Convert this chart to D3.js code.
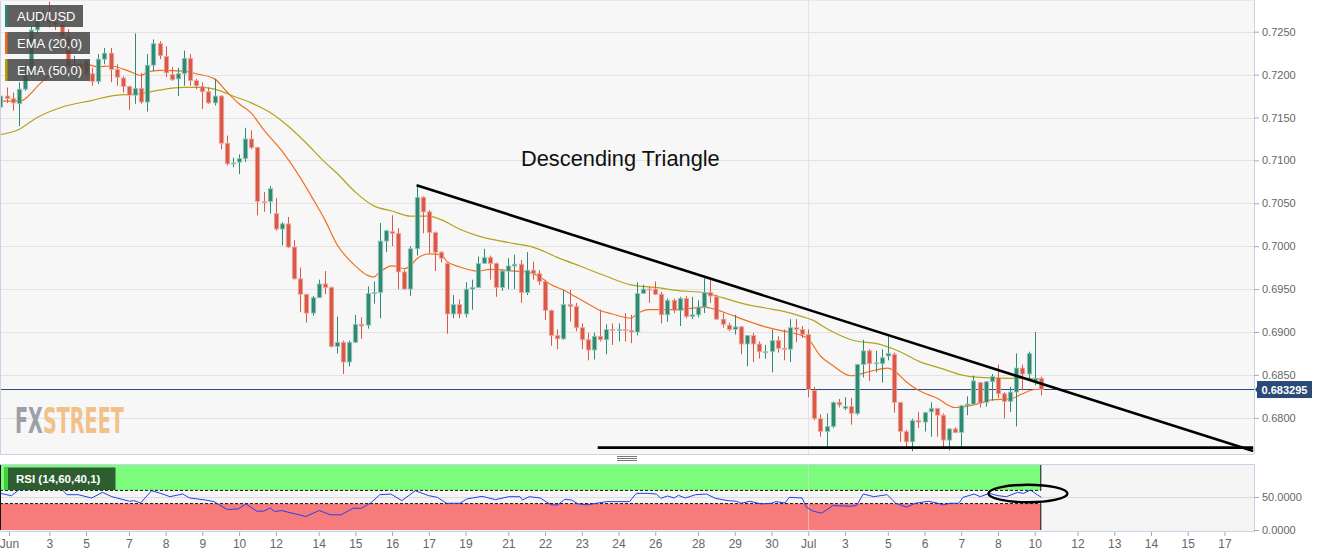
<!DOCTYPE html>
<html>
<head>
<meta charset="utf-8">
<script src="https://cdn.jsdelivr.net/npm/d3@7"></script>
<style>
    body { margin: 0; background: #fff; font-family: "Liberation Sans", Arial, sans-serif; }
    svg { display: block; }
</style>
</head>
<body>
<svg id="chart" width="1331" height="558"></svg>
<script>
// 4h candles, index 0 = Jun 1 16:00
const opens = [
    .7162,.7175,.7172,.7166,.7183,.7200,.7252,.7270,.7265,.7261,.7258,.7244,.7210,.7211,.7216,.7201,.7192,.7218,.7225,.7206,
    .7196,.7186,.7176,.7184,.7168,.7211,.7236,.7221,.7200,.7195,.7201,.7219,.7193,.7186,.7180,.7167,.7175,.7120,.7096,.7098,
    .7102,.7125,.7115,.7052,.7052,.7038,.7020,.7026,.6999,.6962,.6944,.6922,.6940,.6956,.6952,.6883,.6888,.6865,.6888,.6909,
    .6908,.6945,.6946,.7006,.7017,.7015,.6970,.6950,.6997,.7057,.7040,.7016,.6993,.6980,.6921,.6932,.6921,.6950,.6952,.6980,
    .6987,.6980,.6952,.6971,.6977,.6979,.6946,.6972,.6968,.6959,.6925,.6896,.6892,.6932,.6930,.6905,.6891,.6879,.6895,.6891,
    .6903,.6902,.6903,.6902,.6900,.6945,.6950,.6950,.6944,.6920,.6937,.6925,.6939,.6918,.6920,.6929,.6946,.6941,.6915,.6908,
    .6903,.6906,.6886,.6896,.6886,.6876,.6877,.6890,.6881,.6880,.6905,.6903,.6897,.6832,.6799,.6784,.6790,.6818,.6811,.6813,
    .6805,.6862,.6878,.6863,.6863,.6872,.6874,.6818,.6784,.6772,.6797,.6795,.6807,.6811,.6803,.6774,.6787,.6783,.6814,.6816,
    .6841,.6818,.6842,.6847,.6828,.6819,.6830,.6858,.6851,.6843,.6846
];
const highs = [
    .7195,.7185,.7179,.7191,.7212,.7256,.7275,.7277,.7285,.7266,.7262,.7253,.7222,.7214,.7218,.7208,.7224,.7231,.7231,.7212,
    .7198,.7187,.7248,.7202,.7224,.7241,.7239,.7233,.7209,.7208,.7228,.7224,.7195,.7191,.7185,.7195,.7176,.7129,.7103,.7107,
    .7138,.7135,.7116,.7063,.7070,.7056,.7028,.7034,.7007,.6975,.6944,.6942,.6961,.6971,.6953,.6918,.6890,.6890,.6920,.6917,
    .6953,.6959,.7027,.7019,.7036,.7021,.6973,.7000,.7071,.7058,.7042,.7017,.6994,.6981,.6943,.6938,.6958,.6961,.6988,.6997,
    .6989,.6981,.6973,.6986,.6990,.6984,.6993,.6982,.6972,.6961,.6926,.6903,.6949,.6949,.6934,.6910,.6899,.6899,.6926,.6909,
    .6910,.6910,.6922,.6920,.6958,.6955,.6953,.6959,.6947,.6939,.6939,.6941,.6942,.6941,.6937,.6963,.6961,.6943,.6922,.6911,
    .6920,.6907,.6896,.6899,.6889,.6885,.6903,.6895,.6903,.6915,.6915,.6907,.6903,.6836,.6804,.6805,.6819,.6822,.6824,.6823,
    .6863,.6891,.6880,.6878,.6880,.6895,.6876,.6818,.6786,.6799,.6807,.6807,.6818,.6811,.6805,.6788,.6789,.6815,.6825,.6849,
    .6842,.6843,.6851,.6862,.6830,.6836,.6875,.6862,.6877,.6900,.6848
];
const lows = [
    .7160,.7167,.7158,.7140,.7181,.7198,.7248,.7260,.7255,.7252,.7240,.7208,.7204,.7202,.7198,.7187,.7189,.7212,.7191,.7187,
    .7179,.7159,.7166,.7166,.7157,.7204,.7218,.7197,.7193,.7175,.7187,.7187,.7183,.7160,.7166,.7164,.7113,.7094,.7092,.7084,
    .7098,.7113,.7036,.7040,.7038,.7018,.7001,.6998,.6961,.6923,.6911,.6919,.6940,.6944,.6882,.6875,.6851,.6860,.6887,.6892,
    .6904,.6933,.6916,.6993,.7000,.6950,.6950,.6942,.6989,.7015,.6992,.6971,.6981,.6898,.6916,.6916,.6917,.6926,.6952,.6980,
    .6961,.6941,.6948,.6950,.6950,.6934,.6943,.6961,.6955,.6914,.6884,.6880,.6891,.6912,.6901,.6880,.6867,.6868,.6889,.6874,
    .6885,.6889,.6889,.6887,.6896,.6945,.6934,.6943,.6910,.6912,.6922,.6907,.6916,.6915,.6917,.6922,.6934,.6914,.6905,.6901,
    .6897,.6874,.6860,.6865,.6869,.6869,.6853,.6876,.6867,.6865,.6888,.6893,.6824,.6797,.6778,.6765,.6788,.6812,.6809,.6792,
    .6803,.6847,.6843,.6853,.6841,.6867,.6806,.6772,.6764,.6761,.6788,.6784,.6778,.6778,.6764,.6762,.6782,.6764,.6803,.6815,
    .6812,.6813,.6820,.6823,.6799,.6807,.6790,.6832,.6845,.6838,.6826
];
const closes = [
    .7175,.7172,.7167,.7183,.7200,.7252,.7270,.7265,.7261,.7258,.7244,.7210,.7211,.7207,.7201,.7192,.7218,.7225,.7206,.7197,
    .7186,.7176,.7184,.7168,.7211,.7236,.7222,.7202,.7194,.7201,.7219,.7193,.7187,.7180,.7167,.7175,.7120,.7096,.7097,.7102,
    .7125,.7115,.7052,.7051,.7067,.7020,.7026,.6999,.6962,.6944,.6922,.6940,.6956,.6952,.6883,.6888,.6865,.6888,.6909,.6907,
    .6945,.6946,.7006,.7018,.7015,.6970,.6950,.6997,.7057,.7040,.7016,.6993,.6986,.6921,.6932,.6921,.6950,.6952,.6980,.6987,
    .6980,.6952,.6971,.6977,.6979,.6946,.6972,.6968,.6959,.6925,.6896,.6892,.6932,.6930,.6905,.6891,.6879,.6895,.6891,.6903,
    .6902,.6903,.6902,.6900,.6945,.6950,.6949,.6944,.6920,.6937,.6925,.6939,.6918,.6920,.6929,.6946,.6942,.6915,.6909,.6903,
    .6906,.6886,.6896,.6886,.6877,.6877,.6890,.6881,.6880,.6905,.6903,.6897,.6833,.6799,.6784,.6790,.6818,.6815,.6813,.6805,
    .6862,.6878,.6863,.6864,.6870,.6875,.6818,.6784,.6772,.6797,.6795,.6806,.6811,.6803,.6774,.6787,.6783,.6814,.6816,.6843,
    .6817,.6842,.6848,.6828,.6819,.6830,.6858,.6851,.6875,.6846,.683295
];

// EMA readings (candle index, price)
const ema20Idx = [0,3,7,10,14,16,18,21,23,24,26,30,32,35,37,39,41,43,46,49,51,53,55,58,60,61,62,64,66,67,68,70,72,73,75,78,80,84,86,88,90,92,94,96,98,100,103,104,106,109,112,115,117,119,122,125,128,130,132,134,136,139,142,145,146,148,150,153,156,159,162,165,167,169,170];
const ema20Val = [.7169,.7169,.7193,.7210,.7212,.7209,.7210,.7204,.7199,.7203,.7205,.7204,.7201,.7195,.7180,.7166,.7155,.7136,.7111,.7080,.7056,.7031,.7002,.6977,.6966,.6964,.6970,.6977,.6974,.6977,.6985,.6991,.6990,.6982,.6976,.6971,.6973,.6971,.6970,.6965,.6955,.6949,.6941,.6933,.6925,.6921,.6916,.6921,.6926,.6926,.6927,.6929,.6926,.6921,.6913,.6906,.6901,.6898,.6892,.6872,.6861,.6849,.6854,.6858,.6855,.6842,.6832,.6823,.6812,.6815,.6821,.6822,.6828,.6833,.6833];
const ema50Idx = [0,3,6,10,15,18,21,23,26,30,33,35,38,41,44,47,50,53,55,58,61,64,67,70,72,75,78,81,84,87,91,95,99,103,107,111,115,118,122,125,128,131,133,135,139,144,147,150,154,157,160,165,168,170];
const ema50Val = [.7130,.7136,.7150,.7162,.7170,.7175,.7177,.7178,.7182,.7185,.7185,.7183,.7175,.7167,.7156,.7140,.7120,.7098,.7085,.7063,.7047,.7041,.7035,.7035,.7031,.7020,.7012,.7007,.7003,.6999,.6987,.6976,.6965,.6955,.6952,.6948,.6946,.6940,.6932,.6928,.6924,.6918,.6913,.6904,.6891,.6885,.6877,.6866,.6857,.6850,.6847,.6846,.6846,.6845];

// RSI readings (candle index, value)
const rsiIdx = [0,1.8,3.2,5,8,9.4,10.9,12.7,14.9,16.7,18.2,21.1,21.8,22.9,24.7,26.2,27.7,29.8,30.9,33.5,34.9,36.4,37.1,38.9,40.1,41.9,43,44.1,44.8,45.9,48.1,49.9,52.1,53.9,55.7,57.6,59,60.5,62,63.8,65.6,67.8,70,71.4,72.9,75.1,76.2,78.7,80.9,83.1,84.9,85.3,86.4,88.2,90,91.1,92.2,93.3,94.4,95.9,97.7,99.1,102.8,103.9,105.7,107.2,107.9,109,110.1,110.8,111.9,113.6,115.4,116.8,118.9,120.3,121,122.5,124.3,126,126.7,128.2,128.9,131,131.7,132.8,134.2,136,138.8,139.9,141,142.7,144.9,146.3,148.1,149.5,151.6,153,154.1,155.2,156.6,157.3,159.1,160.1,161.6,163,164.4,166.2,167.2,168.3,169.4,170.1];
const rsiVal = [55.5,52,62,70.5,70.5,67,53.5,53.5,48.5,57,50.5,43.5,44.5,41,59.5,55.5,50.5,54.5,48.5,45.5,43,34.5,31,32,39.5,28.5,28.5,33.5,28,29.5,24.5,20.5,29.5,23,23,33,33,41,53.5,54.5,44.5,59.5,52,49.5,40.5,40.5,47,51,46,50.5,50.5,45.5,50.5,48.5,38,38,46.5,45.5,39.5,38,41,43,43,55.5,55.5,54.5,48,51.5,48.5,52.5,48.5,53.5,54.5,48,44.5,43.5,40.5,43.5,39.5,40.5,43,41,49.5,48.5,34.5,28.5,25.5,37,36,37,54.5,50.5,53.5,40.5,34.5,40.5,43.5,41,38,40.5,40.5,49.5,54.5,50.5,55.5,52,50.5,57,55.5,60.5,53.5,49.5];

const dayLabels = ['Jun','3','5','7','8','9','10','12','14','15','16','17','19','21','22','23','24','26','28','29','30','Jul','3','5','6','7','8','10','12','13','14','15','17'];
const dayIndex = [1.4,8,14,21,27,33,39,45,52,58,64,70,76,83,89,95,101,107,114,120,126,132,138,145,151,157,163,169,176,182,188,194,200];
const priceTicks = [0.6800,0.6850,0.6900,0.6950,0.7000,0.7050,0.7100,0.7150,0.7200,0.7250];
const rsiTicks = [0, 50];
const lastPrice = 0.683295;
const julIndex = 132;

// annotations (index, price)
const resistLine = [[68, 0.7071], [204.7, 0.67613]];
const supportLine = [[97.6, 0.67652], [204.7, 0.67652]];
const rsiCircle = { i: 167.9, v: 55.3, di: 6.45, dv: 13.2 };

const legendItems = [
    { name: 'AUD/USD', color: '#2a8a70', w: 78 },
    { name: 'EMA (20,0)', color: '#f06a1a', w: 85 },
    { name: 'EMA (50,0)', color: '#b3a000', w: 85 }
];

const GREEN = '#2e8a72', RED = '#d85948';
const plotRight = 1254, plotTop = 1, plotBottom = 454;

const svg = d3.select('#chart');
const x = d3.scaleLinear().domain([0, 170]).range([0.4, 1040.8]);
const y = d3.scaleLinear().domain([0.6800, 0.7250]).range([417.8, 31.7]);
const ry = d3.scaleLinear().domain([0, 100]).range([530, 464]);

svg.append('defs').append('clipPath').attr('id', 'plotclip')
    .append('rect').attr('x', 0).attr('y', plotTop).attr('width', plotRight).attr('height', plotBottom - plotTop);

// main panel background
svg.append('rect').attr('x', 0).attr('y', plotTop).attr('width', plotRight).attr('height', plotBottom - plotTop)
    .attr('fill', '#f7f7f7');

// grid
svg.append('g').selectAll('line').data(priceTicks).enter().append('line')
    .attr('x1', 0).attr('x2', plotRight)
    .attr('y1', d => Math.round(y(d)) + 0.5).attr('y2', d => Math.round(y(d)) + 0.5)
    .attr('stroke', '#e2e2e2');

// month separator
svg.append('line').attr('x1', Math.round(x(julIndex)) + 0.5).attr('x2', Math.round(x(julIndex)) + 0.5)
    .attr('y1', plotTop).attr('y2', plotBottom).attr('stroke', '#e4e4e4');

// watermark (narrow bold, stretched vertically)
const wmFont = '"Liberation Sans Narrow", "DejaVu Sans Condensed", sans-serif';
const wm = svg.append('g').attr('transform', 'translate(15,433) scale(1,1.69)');
wm.append('text').attr('x', 0).attr('y', 0).attr('font-family', wmFont)
    .attr('font-weight', 'bold').attr('font-size', 21.3).attr('fill', '#9ca0a8').text('FX');
wm.append('text').attr('x', 28).attr('y', 0).attr('font-family', wmFont)
    .attr('font-weight', 'bold').attr('font-size', 21.3).attr('fill', '#f2c089').text('STREET');

const plot = svg.append('g').attr('clip-path', 'url(#plotclip)');

// price line
plot.append('line').attr('x1', 0).attr('x2', plotRight)
    .attr('y1', y(lastPrice)).attr('y2', y(lastPrice))
    .attr('stroke', '#2c4a78').attr('stroke-width', 1);

// EMAs
const emaLine = d3.line().x(d => x(d[0])).y(d => y(d[1])).curve(d3.curveMonotoneX);
plot.append('path').datum(d3.zip(ema50Idx, ema50Val)).attr('d', emaLine)
    .attr('fill', 'none').attr('stroke', '#b5a31c').attr('stroke-width', 1.2);
plot.append('path').datum(d3.zip(ema20Idx, ema20Val)).attr('d', emaLine)
    .attr('fill', 'none').attr('stroke', '#f0701e').attr('stroke-width', 1.2);

// candles
const candles = d3.range(closes.length).map(i => ({ i, o: opens[i], h: highs[i], l: lows[i], c: closes[i] }));
const cg = plot.append('g').selectAll('g').data(candles).enter().append('g');
cg.append('line')
    .attr('x1', d => Math.round(x(d.i)) + 0.5).attr('x2', d => Math.round(x(d.i)) + 0.5)
    .attr('y1', d => y(d.h)).attr('y2', d => y(d.l))
    .attr('stroke', d => d.c >= d.o ? GREEN : RED).attr('stroke-width', 1);
cg.append('rect')
    .attr('x', d => Math.round(x(d.i)) + 0.5 - 2.2)
    .attr('width', 4.4)
    .attr('y', d => y(Math.max(d.o, d.c)))
    .attr('height', d => Math.max(1, y(Math.min(d.o, d.c)) - y(Math.max(d.o, d.c))))
    .attr('fill', d => d.c >= d.o ? GREEN : RED)
    .attr('stroke', d => d.c >= d.o ? '#9cc9bb' : '#f0a99d').attr('stroke-width', 0.8);

// trend lines
const tl = d3.line().x(d => x(d[0])).y(d => y(d[1]));
plot.append('path').datum(resistLine).attr('d', tl).attr('stroke', '#000').attr('stroke-width', 2.6).attr('fill', 'none');
plot.append('path').datum(supportLine).attr('d', tl).attr('stroke', '#000').attr('stroke-width', 2.6).attr('fill', 'none');

svg.append('text').attr('x', 521).attr('y', 166).attr('font-size', 21.8).attr('fill', '#111')
    .text('Descending Triangle');

// legends
const lg = svg.append('g').selectAll('g').data(legendItems).enter().append('g')
    .attr('transform', (d, k) => 'translate(5,' + [5, 32, 59][k] + ')');
lg.append('rect').attr('width', d => d.w).attr('height', 22).attr('fill', '#474747').attr('opacity', 0.86);
lg.append('rect').attr('width', 2.5).attr('height', 22).attr('fill', d => d.color);
lg.append('text').attr('x', 12).attr('y', 15.8).attr('fill', '#fff').attr('font-size', 13).text(d => d.name);

// borders
svg.append('line').attr('x1', plotRight + 0.5).attr('x2', plotRight + 0.5).attr('y1', 0).attr('y2', plotBottom)
    .attr('stroke', '#c9d2e6');
svg.append('line').attr('x1', 0.5).attr('x2', 0.5).attr('y1', 0).attr('y2', plotBottom).attr('stroke', '#c9d2e6');
svg.append('line').attr('x1', 0).attr('x2', plotRight).attr('y1', plotBottom + 0.5).attr('y2', plotBottom + 0.5)
    .attr('stroke', '#c9d2e6');
svg.append('line').attr('x1', 0).attr('x2', plotRight).attr('y1', 0.5).attr('y2', 0.5).attr('stroke', '#e6e9f0');

// handle
[456.5, 458.5, 460.5].forEach(v => {
    svg.append('line').attr('x1', 617).attr('x2', 637).attr('y1', v).attr('y2', v).attr('stroke', '#777').attr('stroke-width', 1);
});

// price axis
const yAxis = svg.append('g').attr('transform', 'translate(' + plotRight + ',0)')
    .call(d3.axisRight(y).tickValues(priceTicks).tickFormat(d3.format('.4f')).tickSize(5));
yAxis.select('.domain').remove();
yAxis.selectAll('line').attr('stroke', '#aaa');
yAxis.selectAll('text').attr('fill', '#666').attr('font-size', 11).attr('font-family', '"Liberation Sans", Arial, sans-serif');

// last price tag
const tagY = y(lastPrice);
svg.append('path').attr('d', 'M' + (plotRight + 1) + ',' + tagY + 'L1258,' + (tagY - 4) + 'L1258,' + (tagY + 4) + 'Z').attr('fill', '#2c4a78');
svg.append('rect').attr('x', 1257).attr('y', tagY - 8.5).attr('width', 55).attr('height', 17).attr('fill', '#2c4a78');
svg.append('text').attr('x', 1284.5).attr('y', tagY + 4).attr('text-anchor', 'middle')
    .attr('fill', '#fff').attr('font-size', 11).attr('font-weight', 'bold').text(lastPrice.toFixed(6));

// RSI panel
const lastX = x(170);
svg.append('rect').attr('x', 0).attr('y', 464).attr('width', plotRight).attr('height', 68).attr('fill', '#f5f5f5');
svg.append('rect').attr('x', 0).attr('y', ry(100)).attr('width', lastX).attr('height', ry(60) - ry(100)).attr('fill', '#7cfb7c');
svg.append('rect').attr('x', 0).attr('y', ry(40)).attr('width', lastX).attr('height', ry(0) - ry(40)).attr('fill', '#f87b7b');
svg.append('line').attr('x1', 0).attr('x2', plotRight).attr('y1', Math.round(ry(50)) + 0.5).attr('y2', Math.round(ry(50)) + 0.5)
    .attr('stroke', '#dcdcdc');
svg.append('line').attr('x1', Math.round(x(julIndex)) + 0.5).attr('x2', Math.round(x(julIndex)) + 0.5)
    .attr('y1', 464).attr('y2', 531).attr('stroke', '#e0e0e0').attr('opacity', 0.6);
[60, 40].forEach(v => {
    svg.append('line').attr('x1', 0).attr('x2', lastX).attr('y1', ry(v)).attr('y2', ry(v))
        .attr('stroke', '#111').attr('stroke-dasharray', '3,2').attr('stroke-width', 1);
});
svg.append('line').attr('x1', lastX).attr('x2', lastX).attr('y1', ry(100)).attr('y2', ry(60)).attr('stroke', '#111');
svg.append('line').attr('x1', lastX).attr('x2', lastX).attr('y1', ry(40)).attr('y2', ry(0)).attr('stroke', '#111');
svg.append('line').attr('x1', 0.5).attr('x2', 0.5).attr('y1', ry(100)).attr('y2', ry(0)).attr('stroke', '#111');
svg.append('line').attr('x1', 0).attr('x2', plotRight).attr('y1', 464.5).attr('y2', 464.5).attr('stroke', '#c9d2e6');
svg.append('line').attr('x1', 0).attr('x2', plotRight).attr('y1', 531.5).attr('y2', 531.5).attr('stroke', '#c9d2e6');
svg.append('line').attr('x1', plotRight + 0.5).attr('x2', plotRight + 0.5).attr('y1', 464).attr('y2', 532).attr('stroke', '#c9d2e6');

svg.append('path').datum(d3.zip(rsiIdx, rsiVal))
    .attr('d', d3.line().x(d => x(d[0])).y(d => ry(d[1])))
    .attr('fill', 'none').attr('stroke', '#2440f0').attr('stroke-width', 1);

svg.append('ellipse')
    .attr('cx', x(rsiCircle.i)).attr('cy', ry(rsiCircle.v))
    .attr('rx', x(rsiCircle.i + rsiCircle.di) - x(rsiCircle.i))
    .attr('ry', ry(rsiCircle.v - rsiCircle.dv) - ry(rsiCircle.v))
    .attr('fill', 'none').attr('stroke', '#000').attr('stroke-width', 2.4);

// RSI legend
svg.append('rect').attr('x', 4.5).attr('y', 467.5).attr('width', 111).attr('height', 22.5).attr('fill', '#2e5e30');
svg.append('rect').attr('x', 4.5).attr('y', 467.5).attr('width', 3.5).attr('height', 22.5).attr('fill', '#3ad63a');
svg.append('text').attr('x', 16).attr('y', 483).attr('fill', '#fff').attr('font-size', 11.5).attr('font-weight', 'bold')
    .text('RSI (14,60,40,1)');

const rAxis = svg.append('g').attr('transform', 'translate(' + plotRight + ',0)')
    .call(d3.axisRight(ry).tickValues(rsiTicks).tickFormat(d3.format('.4f')).tickSize(5));
rAxis.select('.domain').remove();
rAxis.selectAll('line').attr('stroke', '#aaa');
rAxis.selectAll('text').attr('fill', '#666').attr('font-size', 11).attr('font-family', '"Liberation Sans", Arial, sans-serif');

// time axis
const xAxis = svg.append('g').attr('transform', 'translate(0,532)')
    .call(d3.axisBottom(x).tickValues(dayIndex).tickFormat((d, k) => dayLabels[k]).tickSize(4));
xAxis.select('.domain').remove();
xAxis.selectAll('line').attr('stroke', '#aaa');
xAxis.selectAll('text').attr('fill', '#666').attr('font-size', 12).attr('font-family', '"Liberation Sans", Arial, sans-serif');
</script>
</body>
</html>
